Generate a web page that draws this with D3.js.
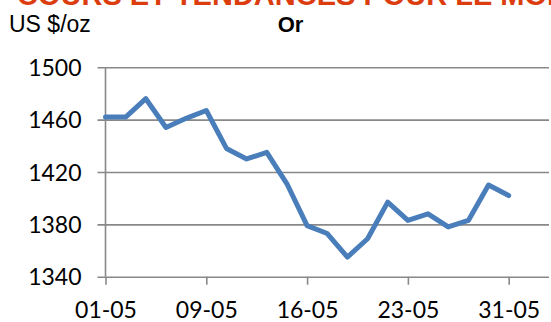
<!DOCTYPE html>
<html>
<head>
<meta charset="utf-8">
<script src="https://cdn.jsdelivr.net/npm/d3@7"></script>
<style>
  html, body { margin: 0; padding: 0; background: #fff; overflow: hidden; }
  svg { display: block; }
</style>
</head>
<body>
<script>
// Gold price, May — US $ per ounce
const dates = ["01-05","02-05","03-05","06-05","07-05","09-05","10-05","13-05","14-05","15-05","16-05",
               "17-05","20-05","21-05","22-05","23-05","24-05","28-05","29-05","30-05","31-05"];
const prices = [1462,1462,1476,1454,1461,1467,1438,1430,1435,1411,1379,
                1373,1355,1369,1397,1383,1388,1378,1383,1410,1402];
const yTicks = [1340,1380,1420,1460,1500];
const xTickIdx = [0,5,10,15,20];

const W = 551, H = 322;
const svg = d3.select("body").append("svg").attr("width", W).attr("height", H);
svg.append("rect").attr("width", W).attr("height", H).attr("fill", "#fff");

// Banner heading (runs past the top edge)
svg.append("text")
  .attr("x", 17).attr("y", 5)
  .attr("font-family", "Liberation Sans, Arial, sans-serif")
  .attr("font-weight", "bold").attr("font-size", 29)
  .attr("fill", "#dc3d0e")
  .text("COURS ET TENDANCES POUR LE MOIS");

svg.append("text")
  .attr("x", 9).attr("y", 32)
  .attr("font-family", "Liberation Sans, Arial, sans-serif")
  .attr("font-size", 23).attr("fill", "#000")
  .text("US $/oz");

svg.append("text")
  .attr("x", 290.5).attr("y", 32).attr("text-anchor", "middle")
  .attr("font-family", "Liberation Sans, Arial, sans-serif")
  .attr("font-weight", "bold").attr("font-size", 22).attr("fill", "#000")
  .text("Or");

const x = d3.scaleLinear().domain([0, 22]).range([105.5, 549]);
const y = d3.scaleLinear().domain([1340, 1500]).range([276.7, 67.3]);

const axisColor = "#888";
const tickFont = "Lato, 'Open Sans', sans-serif";

// Horizontal gridlines with left tick marks
const yAxis = d3.axisLeft(y).tickValues(yTicks).tickSize(-(549 - 105.5)).tickFormat(d3.format("d")).tickPadding(18);
const gy = svg.append("g").attr("transform", "translate(105.5,0)").call(yAxis);
gy.select(".domain").remove();
gy.selectAll(".tick line").attr("stroke", axisColor).attr("stroke-width", 1.6).attr("x1", -8);
gy.selectAll(".tick text")
  .attr("font-family", tickFont).attr("font-size", 23).attr("fill", "#000")
  .attr("x", -24).attr("dy", "0.35em");

// Vertical axis line
svg.append("line")
  .attr("x1", 105.5).attr("x2", 105.5).attr("y1", y(1500)).attr("y2", y(1340))
  .attr("stroke", axisColor).attr("stroke-width", 1.6);

// Category axis
const xAxis = d3.axisBottom(x).tickValues(xTickIdx).tickSize(8).tickFormat(i => dates[i]).tickPadding(8);
const gx = svg.append("g").attr("transform", `translate(0,${y(1340)})`).call(xAxis);
gx.select(".domain").remove();
gx.selectAll(".tick line").attr("stroke", axisColor).attr("stroke-width", 1.6);
gx.selectAll(".tick text")
  .attr("font-family", tickFont).attr("font-size", 23).attr("fill", "#000")
  .attr("y", 0).attr("dy", 41);

// Price line
const line = d3.line().x((d, i) => x(i)).y(d => y(d));
svg.append("path")
  .datum(prices)
  .attr("d", line)
  .attr("fill", "none")
  .attr("stroke", "#4a7ebb")
  .attr("stroke-width", 5)
  .attr("stroke-linejoin", "round")
  .attr("stroke-linecap", "round");
</script>
</body>
</html>
